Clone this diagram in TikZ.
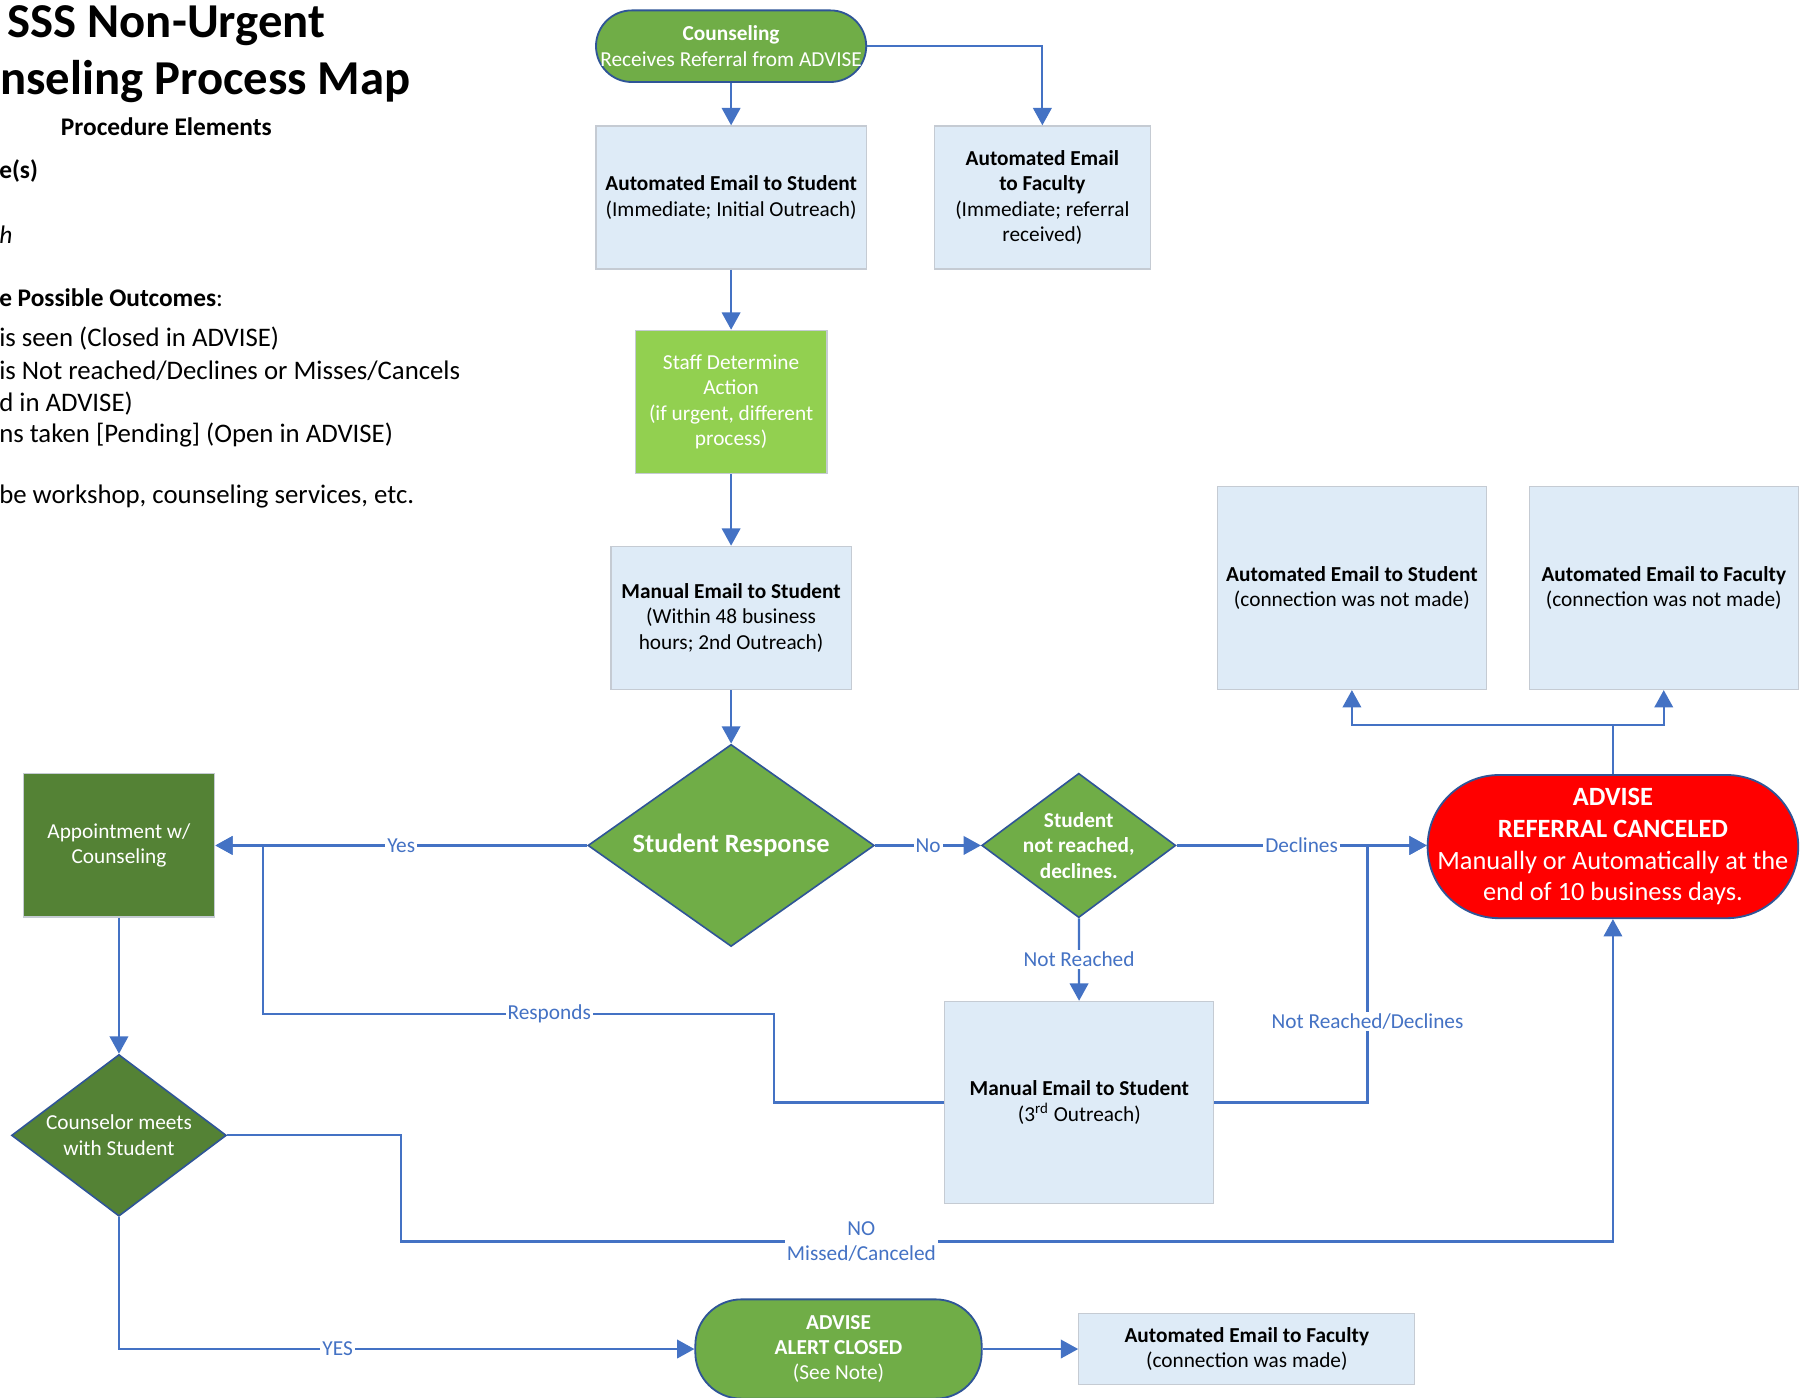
\documentclass[tikz,border=0pt]{standalone}
\usepackage{fontspec}
\setmainfont{Carlito}
\usepackage{tikz}
\usetikzlibrary{shapes, arrows.meta, positioning, calc}

\definecolor{lineblue}{RGB}{68, 114, 196}
\definecolor{boxblue}{RGB}{222, 235, 247}
\definecolor{boxedge}{RGB}{197, 203, 211}
\definecolor{termgreen}{RGB}{112, 173, 71}
\definecolor{termedge}{RGB}{47, 85, 151}
\definecolor{staffgreen}{RGB}{146, 208, 80}
\definecolor{darkgreen}{RGB}{84, 130, 53}
\definecolor{cancelred}{RGB}{255, 0, 0}

\tikzset{
  flow/.style={draw=lineblue, line width=1.1pt, -{Triangle[length=0.3cm, width=0.32cm]}},
  link/.style={draw=lineblue, line width=1.1pt},
  lbl/.style={fill=white, text=lineblue, inner sep=1pt, align=center, font=\fontsize{10.5}{12.5}\selectfont},
  note/.style={anchor=west, inner sep=0pt, font=\fontsize{13.2}{15.8}\selectfont},
  mailbox/.style={rectangle, draw=boxedge, fill=boxblue, line width=0.6pt, inner sep=2pt, align=center, font=\fontsize{10.5}{12.5}\selectfont},
  terminal/.style={rectangle, draw=termedge, fill=termgreen, line width=0.9pt, inner sep=0pt, align=center, text=white, font=\fontsize{10.5}{12.5}\selectfont},
  decide/.style={diamond, draw=termedge, line width=0.8pt, inner sep=0pt},
  dtext/.style={align=center, text=white, inner sep=0pt, font=\fontsize{10.5}{12.5}\selectfont},
}

\begin{document}
\begin{tikzpicture}[x=0.02cm, y=-0.02cm]
  \fill[white, use as bounding box] (0,0) rectangle (1568,1210);
  \clip (0,0) rectangle (1568,1210);

  % Title and procedure notes (cut off on the left)
  \node[font=\bfseries\fontsize{24}{28}\selectfont, align=center] (title) at (144,47) {SSS Non-Urgent\\Counseling Process Map};
  \node[font=\bfseries\fontsize{12.5}{15}\selectfont] (elements) at (144,110) {Procedure Elements};
  \node[note, font=\bfseries\fontsize{12.5}{15}\selectfont] (types) at (-1,148) {e(s)};
  \node[note, font=\itshape\fontsize{12.5}{15}\selectfont] (outreach) at (-1,203) {h};
  \node[note, font=\fontsize{12.5}{15}\selectfont] (outcomes) at (-1,258) {\textbf{e Possible Outcomes}:};
  \node[note] (seen) at (-1,293) {is seen (Closed in ADVISE)};
  \node[note] (missing) at (-1,321) {is Not reached/Declines or Misses/Cancels};
  \node[note] (closedadv) at (-1,349) {d in ADVISE)};
  \node[note] (pending) at (-1,377) {ns taken [Pending] (Open in ADVISE)};
  \node[note] (services) at (-1,430) {be workshop, counseling services, etc.};

  % Referral intake
  \node[terminal, minimum width=4.68cm, minimum height=1.24cm, rounded corners=0.62cm] (recv) at (633,40) {\textbf{Counseling}\\Receives Referral from ADVISE};
  \node[mailbox, minimum width=4.68cm, minimum height=2.48cm] (stumail) at (633,171) {\textbf{Automated Email to Student}\\(Immediate; Initial Outreach)};
  \node[mailbox, minimum width=3.74cm, minimum height=2.48cm] (facmail) at (902.5,171) {\textbf{Automated Email}\\\textbf{to Faculty}\\(Immediate; referral\\received)};
  \node[mailbox, fill=staffgreen, text=white, minimum width=3.32cm, minimum height=2.48cm] (staff) at (633,348) {Staff Determine\\Action\\(if urgent, different\\process)};
  \node[mailbox, minimum width=4.16cm, minimum height=2.48cm] (manual2) at (633,535) {\textbf{Manual Email to Student}\\(Within 48 business\\hours; 2nd Outreach)};

  % Decisions
  \node[decide, fill=termgreen, aspect=1.42, minimum width=4.96cm, minimum height=3.5cm, text=white, font=\bfseries\fontsize{13}{15}\selectfont] (resp) at (633,732) {Student Response};
  \node[mailbox, fill=darkgreen, text=white, minimum width=3.32cm, minimum height=2.48cm] (appt) at (103,732) {Appointment w/\\Counseling};
  \node[decide, fill=termgreen, minimum width=3.36cm, minimum height=2.5cm] (noreach) at (934,732) {};
  \node[dtext, font=\bfseries\fontsize{10.5}{12.5}\selectfont] (noreachtxt) at (noreach) {Student\\not reached,\\declines.};
  \node[mailbox, minimum width=4.66cm, minimum height=3.5cm] (manual3) at (934.5,954.5) {\textbf{Manual Email to Student}\\(3\textsuperscript{rd} Outreach)};
  \node[decide, fill=darkgreen, minimum width=3.72cm, minimum height=2.8cm] (meet) at (103,983) {};
  \node[dtext] (meettxt) at (meet) {Counselor meets\\with Student};

  % Outcomes
  \node[terminal, fill=cancelred, minimum width=6.42cm, minimum height=2.48cm, rounded corners=1.24cm, font=\fontsize{13}{15.7}\selectfont] (cancel) at (1396.5,733) {\textbf{ADVISE}\\\textbf{REFERRAL CANCELED}\\Manually or Automatically at the\\end of 10 business days.};
  \node[mailbox, minimum width=4.66cm, minimum height=3.52cm] (stunone) at (1170.5,509) {\textbf{Automated Email to Student}\\(connection was not made)};
  \node[mailbox, minimum width=4.66cm, minimum height=3.52cm] (facnone) at (1440.5,509) {\textbf{Automated Email to Faculty}\\(connection was not made)};
  \node[terminal, minimum width=4.96cm, minimum height=1.72cm, rounded corners=0.8cm] (closed) at (726,1168) {\textbf{ADVISE}\\\textbf{ALERT CLOSED}\\(See Note)};
  \node[mailbox, minimum width=5.82cm, minimum height=1.24cm] (facmade) at (1079.5,1168) {\textbf{Automated Email to Faculty}\\(connection was made)};

  % Connectors
  \draw[flow] (recv) -- (stumail);
  \draw[flow] (recv.east) -| (facmail.north);
  \draw[flow] (stumail) -- (staff);
  \draw[flow] (staff) -- (manual2);
  \draw[flow] (manual2) -- (resp);
  \draw[flow] (resp) -- node[lbl] {Yes} (appt);
  \draw[flow] (resp) -- node[lbl] {No} (noreach);
  \draw[flow] (noreach) -- node[lbl] {Declines} (noreach -| cancel.west);
  \coordinate (split) at (1396.5,628);
  \draw[link] (cancel.north) -- (split);
  \draw[flow] (split) -| (stunone.south);
  \draw[flow] (split) -| (facnone.south);
  \draw[flow] (noreach) -- node[lbl] {Not Reached} (manual3);
  \coordinate (rsp) at (670,878);
  \coordinate (rspend) at (228,878);
  \draw[flow] (manual3.west) -| (rsp) -- node[lbl, pos=0.44] {Responds} (rspend) |- (appt.east);
  \coordinate (nrd) at (1184,954.5);
  \draw[flow] (manual3.east) -- (nrd) -- node[lbl, pos=0.315] {Not Reached/Declines} (nrd |- noreach.east) -- (noreach -| cancel.west);
  \draw[flow] (appt) -- (meet);
  \coordinate (missed) at (347,1075);
  \draw[flow] (meet.east) -| (missed) -- node[lbl, pos=0.38] {NO\\Missed/Canceled} (missed -| cancel.south) -- (cancel.south);
  \draw[flow] (meet.south) |- node[lbl, pos=0.69] {YES} (closed.west);
  \draw[flow] (closed) -- (facmade);
\end{tikzpicture}
\end{document}
